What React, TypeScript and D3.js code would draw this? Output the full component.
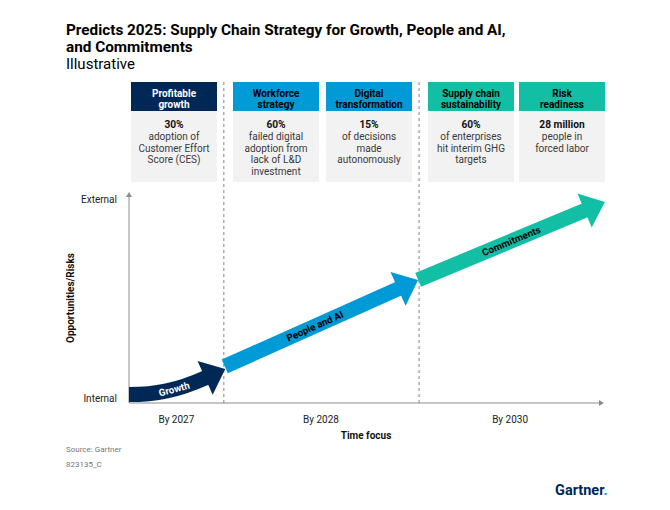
import React from "react";
import * as d3 from "d3";

// ---------- Data ----------
const titleLines = [
  "Predicts 2025: Supply Chain Strategy for Growth, People and AI,",
  "and Commitments",
];
const subtitle = "Illustrative";

const boxHeaders = [
  ["Profitable", "growth"],
  ["Workforce", "strategy"],
  ["Digital", "transformation"],
  ["Supply chain", "sustainability"],
  ["Risk", "readiness"],
];
const boxFigures = ["30%", "60%", "15%", "60%", "28 million"];
const boxTexts = [
  ["adoption of", "Customer Effort", "Score (CES)"],
  ["failed digital", "adoption from", "lack of L&D", "investment"],
  ["of decisions", "made", "autonomously"],
  ["of enterprises", "hit interim GHG", "targets"],
  ["people in", "forced labor"],
];
const boxTheme = [0, 1, 1, 2, 2];

const periodLabels = ["By 2027", "By 2028", "By 2030"];
const periodCenters = [10, 40.5, 80.4];
const periodDividers = [20, 61.2];

const arrowNames = ["Growth", "People and AI", "Commitments"];
const arrowStartX = [0, 20.2, 61];
const arrowStartY = [4, 17.4, 58.6];
const arrowEndX = [20.3, 61, 100.4];
const arrowEndY = [16.2, 58.6, 95.7];
const arrowTheme = [0, 1, 2];
const arrowCurved = [true, false, false];
const arrowLabelT = [0.6, 0.52, 0.56];

const yTickLabels = ["Internal", "External"];
const yTickValues = [2, 97];
const xAxisTitle = "Time focus";
const yAxisTitle = "Opportunities/Risks";
const sourceLines = ["Source: Gartner", "823135_C"];

// ---------- Style ----------
const themeFill = ["#002856", "#009ad7", "#12bfa5"];
const themeText = ["#ffffff", "#000000", "#000000"];
const FONT = "Roboto, 'Liberation Sans', Arial, sans-serif";

type P = { x: number; y: number };

function arrowPaths(i: number, x: d3.ScaleLinear<number, number>, y: d3.ScaleLinear<number, number>) {
  const S: P = { x: x(arrowStartX[i]), y: y(arrowStartY[i]) };
  const T: P = { x: x(arrowEndX[i]), y: y(arrowEndY[i]) };
  const bw = 15, hw = 37, hl = 22;
  let u: P;
  if (arrowCurved[i]) {
    const j = i + 1;
    const dx = x(arrowEndX[j]) - x(arrowStartX[j]);
    const dy = y(arrowEndY[j]) - y(arrowStartY[j]);
    const L = Math.hypot(dx, dy);
    u = { x: dx / L, y: dy / L };
  } else {
    const L = Math.hypot(T.x - S.x, T.y - S.y);
    u = { x: (T.x - S.x) / L, y: (T.y - S.y) / L };
  }
  const n: P = { x: -u.y, y: u.x };
  const B: P = { x: T.x - hl * u.x, y: T.y - hl * u.y };
  const head = d3.path();
  head.moveTo(B.x + n.x * hw / 2, B.y + n.y * hw / 2);
  head.lineTo(T.x, T.y);
  head.lineTo(B.x - n.x * hw / 2, B.y - n.y * hw / 2);
  head.closePath();

  let body: string;
  let labelPos: P, labelAngle: number;
  const t = arrowLabelT[i];
  if (arrowCurved[i]) {
    const span = B.x - S.x;
    const P0 = S;
    const P1 = { x: S.x + span * 0.35, y: S.y };
    const P2 = { x: B.x - u.x * span * 0.4, y: B.y - u.y * span * 0.4 };
    const P3 = { x: B.x + u.x * 1, y: B.y + u.y * 1 };
    const bp = d3.path();
    bp.moveTo(P0.x, P0.y);
    bp.bezierCurveTo(P1.x, P1.y, P2.x, P2.y, P3.x, P3.y);
    body = bp.toString();
    const mt = 1 - t;
    labelPos = {
      x: mt * mt * mt * P0.x + 3 * mt * mt * t * P1.x + 3 * mt * t * t * P2.x + t * t * t * P3.x,
      y: mt * mt * mt * P0.y + 3 * mt * mt * t * P1.y + 3 * mt * t * t * P2.y + t * t * t * P3.y,
    };
    const tx = 3 * mt * mt * (P1.x - P0.x) + 6 * mt * t * (P2.x - P1.x) + 3 * t * t * (P3.x - P2.x);
    const ty = 3 * mt * mt * (P1.y - P0.y) + 6 * mt * t * (P2.y - P1.y) + 3 * t * t * (P3.y - P2.y);
    labelAngle = (Math.atan2(ty, tx) * 180) / Math.PI;
  } else {
    const bp = d3.path();
    bp.moveTo(S.x, S.y);
    bp.lineTo(B.x + u.x * 1, B.y + u.y * 1);
    body = bp.toString();
    labelPos = { x: S.x + (B.x - S.x) * t, y: S.y + (B.y - S.y) * t };
    labelAngle = (Math.atan2(u.y, u.x) * 180) / Math.PI;
  }
  return { body, head: head.toString(), bw, labelPos, labelAngle };
}

export default function App() {
  const W = 670, H = 510;
  const x = d3.scaleLinear().domain([0, 100]).range([129, 603]);
  const y = d3.scaleLinear().domain([0, 100]).range([403, 193]);
  const axisColor = "#8c8c8c";

  const boxLeft = [131, 233, 326, 428, 519];
  const boxW = 86;
  const headTop = 82, headH = 29, bodyBottom = 182;

  return (
    <svg
      width={W}
      height={H}
      viewBox={`0 0 ${W} ${H}`}
      style={{ position: "absolute", left: 0, top: 0, background: "#fff" }}
      fontFamily={FONT}
    >
      <rect x={0} y={0} width={W} height={H} fill="#fff" />
      {titleLines.map((t, i) => (
        <text key={i} x={66} y={35 + i * 16.5} fontSize={15.3} fontWeight={700} fill="#000">
          {t}
        </text>
      ))}
      <text x={66} y={69} fontSize={15} fill="#000">
        {subtitle}
      </text>

      {periodDividers.map((d, i) => (
        <line
          key={i}
          x1={x(d)}
          x2={x(d)}
          y1={headTop}
          y2={y(0)}
          stroke="#9a9a9a"
          strokeWidth={1.2}
          strokeDasharray="3,3"
        />
      ))}

      {boxHeaders.map((h, i) => {
        const cx = boxLeft[i] + boxW / 2;
        return (
          <g key={i}>
            <rect x={boxLeft[i]} y={headTop + headH} width={boxW} height={bodyBottom - headTop - headH} fill="#f2f2f2" />
            <rect x={boxLeft[i]} y={headTop} width={boxW} height={headH} fill={themeFill[boxTheme[i]]} />
            {h.map((line, k) => (
              <text
                key={k}
                x={cx}
                y={96.5 + k * 11.5}
                textAnchor="middle"
                fontSize={10}
                fontWeight={700}
                fill={themeText[boxTheme[i]]}
              >
                {line}
              </text>
            ))}
            <text x={cx} y={128} textAnchor="middle" fontSize={10.2} fontWeight={700} fill="#111">
              {boxFigures[i]}
            </text>
            {boxTexts[i].map((line, k) => (
              <text key={k} x={cx} y={140 + k * 11.7} textAnchor="middle" fontSize={10} fill="#3a3a3a">
                {line}
              </text>
            ))}
          </g>
        );
      })}

      <line x1={x(0)} x2={x(0)} y1={y(0)} y2={y(100) + 2} stroke={axisColor} strokeWidth={1} />
      <path d={`M${x(0) - 3},${y(100) + 4} L${x(0)},${y(100) - 1} L${x(0) + 3},${y(100) + 4} Z`} fill={axisColor} />
      <line x1={x(0)} x2={x(100) - 2} y1={y(0)} y2={y(0)} stroke={axisColor} strokeWidth={1} />
      <path d={`M${x(100) - 4},${y(0) - 3} L${x(100) + 1},${y(0)} L${x(100) - 4},${y(0) + 3} Z`} fill={axisColor} />

      {yTickLabels.map((l, i) => (
        <text key={i} x={117} y={y(yTickValues[i])} dy="0.35em" textAnchor="end" fontSize={10} fill="#222">
          {l}
        </text>
      ))}
      <text
        transform={`translate(74, ${(y(0) + y(100)) / 2}) rotate(-90)`}
        textAnchor="middle"
        fontSize={10}
        fontWeight={700}
        fill="#111"
      >
        {yAxisTitle}
      </text>
      {periodLabels.map((l, i) => (
        <text key={i} x={x(periodCenters[i])} y={423} textAnchor="middle" fontSize={10} fill="#222">
          {l}
        </text>
      ))}
      <text x={366} y={439} textAnchor="middle" fontSize={10} fontWeight={700} fill="#111">
        {xAxisTitle}
      </text>

      {arrowNames.map((name, i) => {
        const a = arrowPaths(i, x, y);
        const fill = themeFill[arrowTheme[i]];
        return (
          <g key={i}>
            <path d={a.body} fill="none" stroke={fill} strokeWidth={a.bw} strokeLinecap="butt" />
            <path d={a.head} fill={fill} />
            <text
              transform={`translate(${a.labelPos.x},${a.labelPos.y}) rotate(${a.labelAngle})`}
              textAnchor="middle"
              dy="0.35em"
              fontSize={9.8}
              fontWeight={700}
              fill={themeText[arrowTheme[i]]}
            >
              {name}
            </text>
          </g>
        );
      })}

      {sourceLines.map((s, i) => (
        <text key={i} x={66} y={452 + i * 15} fontSize={8} fill="#777">
          {s}
        </text>
      ))}
      <text x={555} y={495} fontSize={14.5} fontWeight={700} fill="#002856">
        Gartner<tspan fill="#009ad7">.</tspan>
      </text>
    </svg>
  );
}
